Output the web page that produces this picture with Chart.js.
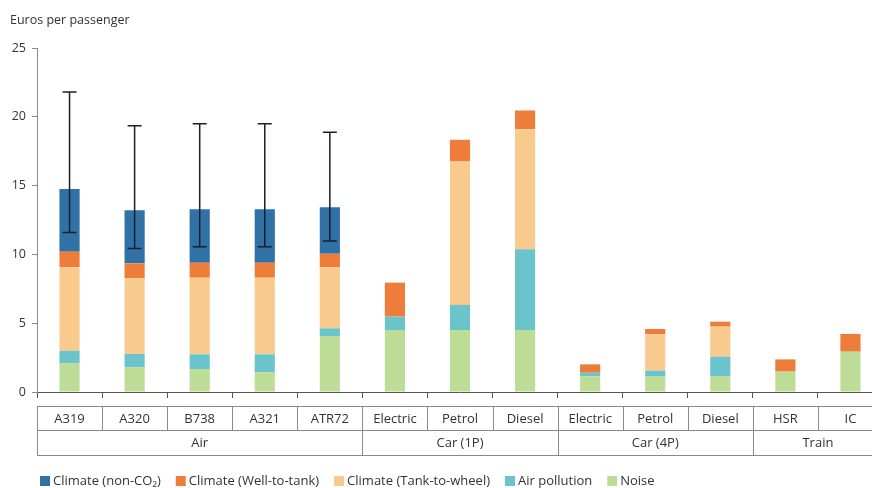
<!DOCTYPE html>
<html>
<head>
<meta charset="utf-8">
<script src="https://cdn.jsdelivr.net/npm/chart.js@4.4.1/dist/chart.umd.min.js"></script>
<style>
    html, body { margin: 0; padding: 0; background: #fff; overflow: hidden; }
    #wrap { width: 884px; height: 488px; }
</style>
</head>
<body>
<div id="wrap"><canvas id="external-costs-chart"></canvas></div>
<script>
const categories = ['A319', 'A320', 'B738', 'A321', 'ATR72', 'Electric', 'Petrol', 'Diesel', 'Electric', 'Petrol', 'Diesel', 'HSR', 'IC'];
const groups = [
    { name: 'Air', from: 0, to: 5 },
    { name: 'Car (1P)', from: 5, to: 8 },
    { name: 'Car (4P)', from: 8, to: 11 },
    { name: 'Train', from: 11, to: 13 }
];

const noise = [2.1, 1.8, 1.67, 1.43, 4.07, 4.5, 4.5, 4.5, 1.15, 1.12, 1.12, 1.48, 2.93];
const airPollution = [0.9, 0.96, 1.07, 1.31, 0.56, 0.98, 1.83, 5.88, 0.25, 0.43, 1.45, 0, 0];
const tankToWheel = [6.07, 5.51, 5.57, 5.57, 4.44, 0, 10.42, 8.72, 0, 2.64, 2.18, 0, 0];
const wellToTank = [1.13, 1.08, 1.09, 1.09, 0.97, 2.47, 1.58, 1.36, 0.61, 0.39, 0.36, 0.89, 1.29];
const nonCO2 = [4.55, 3.85, 3.88, 3.88, 3.39, 0, 0, 0, 0, 0, 0, 0, 0];

// uncertainty range for the aircraft totals
const errLow = [11.6, 10.42, 10.55, 10.55, 10.98];
const errHigh = [21.8, 19.35, 19.5, 19.5, 18.88];

const yTicks = [0, 5, 10, 15, 20, 25];

const FONT = '"Open Sans", "Noto Sans", sans-serif';
const TEXT = '#333333';
const LINE = '#8a8a8a';

const errorBars = {
    id: 'errorBars',
    afterDatasetsDraw(chart) {
        const { ctx, scales: { x, y } } = chart;
        ctx.save();
        ctx.strokeStyle = '#1b1f2e';
        ctx.lineWidth = 1.5;
        errLow.forEach((lo, i) => {
            const cx = x.getPixelForValue(i);
            const yLo = y.getPixelForValue(lo);
            const yHi = y.getPixelForValue(errHigh[i]);
            ctx.beginPath();
            ctx.moveTo(cx, yLo);
            ctx.lineTo(cx, yHi);
            ctx.moveTo(cx - 7, yLo);
            ctx.lineTo(cx + 7, yLo);
            ctx.moveTo(cx - 7, yHi);
            ctx.lineTo(cx + 7, yHi);
            ctx.stroke();
        });
        ctx.restore();
    }
};

// two-row category table under the x axis, plus title and legend
const tableAndLegend = {
    id: 'tableAndLegend',
    afterDraw(chart) {
        const { ctx, scales: { x } } = chart;
        const step = x.getPixelForValue(1) - x.getPixelForValue(0);
        const edge = i => x.getPixelForValue(i) - step / 2;
        const top = 406, mid = 430, bottom = 455;

        ctx.save();
        ctx.strokeStyle = LINE;
        ctx.lineWidth = 1;
        ctx.beginPath();
        [top, mid, bottom].forEach(yy => {
            ctx.moveTo(edge(0), yy + 0.5);
            ctx.lineTo(edge(categories.length), yy + 0.5);
        });
        for (let i = 0; i <= categories.length; i++) {
            const ex = Math.round(edge(i)) + 0.5;
            ctx.moveTo(ex, top);
            ctx.lineTo(ex, mid);
        }
        groups.forEach(g => {
            [g.from, g.to].forEach(i => {
                const ex = Math.round(edge(i)) + 0.5;
                ctx.moveTo(ex, mid);
                ctx.lineTo(ex, bottom);
            });
        });
        ctx.stroke();

        ctx.fillStyle = TEXT;
        ctx.font = '13px ' + FONT;
        ctx.textAlign = 'center';
        ctx.textBaseline = 'middle';
        categories.forEach((c, i) => ctx.fillText(c, x.getPixelForValue(i), (top + mid) / 2 + 1));
        groups.forEach(g => ctx.fillText(g.name, (edge(g.from) + edge(g.to)) / 2, (mid + bottom) / 2 + 1));

        ctx.textAlign = 'left';
        ctx.font = '12.5px ' + FONT;
        ctx.fillText('Euros per passenger', 10, 20);

        // legend, top of the stack first
        ctx.font = '13px ' + FONT;
        const items = chart.data.datasets.slice().reverse();
        let lx = 40;
        const ly = 481;
        items.forEach(ds => {
            ctx.fillStyle = ds.backgroundColor;
            ctx.fillRect(lx, ly - 5, 10, 10);
            ctx.fillStyle = TEXT;
            ctx.fillText(ds.label, lx + 13, ly);
            lx += 13 + ctx.measureText(ds.label).width + 15;
        });
        ctx.restore();
    }
};

const ctx = document.getElementById('external-costs-chart').getContext('2d');

new Chart(ctx, {
    type: 'bar',
    data: {
        labels: categories,
        datasets: [
            { label: 'Noise', data: noise, backgroundColor: 'rgb(189, 221, 151)' },
            { label: 'Air pollution', data: airPollution, backgroundColor: 'rgb(107, 196, 203)' },
            { label: 'Climate (Tank-to-wheel)', data: tankToWheel, backgroundColor: 'rgb(249, 202, 142)' },
            { label: 'Climate (Well-to-tank)', data: wellToTank, backgroundColor: 'rgb(238, 125, 58)' },
            { label: 'Climate (non-CO\u2082)', data: nonCO2, backgroundColor: 'rgb(48, 114, 165)' }
        ]
    },
    options: {
        responsive: true,
        maintainAspectRatio: false,
        animation: false,
        datasets: {
            bar: {
                barPercentage: 0.31,
                categoryPercentage: 1,
                borderWidth: 0
            }
        },
        layout: {
            padding: { top: 48, right: 1, bottom: 0, left: 0 }
        },
        scales: {
            x: {
                stacked: true,
                offset: true,
                ticks: { display: false },
                grid: {
                    offset: true,
                    drawOnChartArea: false,
                    tickLength: 6,
                    color: '#555'
                },
                border: { color: '#555' },
                afterFit: function(scale) {
                    scale.height = 96;
                }
            },
            y: {
                stacked: true,
                min: 0,
                max: 25,
                afterBuildTicks: function(scale) {
                    scale.ticks = yTicks.map(v => ({ value: v }));
                },
                ticks: {
                    color: TEXT,
                    padding: 6,
                    font: { family: FONT, size: 12.5 }
                },
                grid: {
                    drawOnChartArea: false,
                    tickLength: 5,
                    color: LINE
                },
                border: { color: LINE },
                afterFit: function(scale) {
                    scale.width = 37;
                }
            }
        },
        plugins: {
            legend: { display: false },
            tooltip: { enabled: false }
        }
    },
    plugins: [errorBars, tableAndLegend]
});
</script>
</body>
</html>
